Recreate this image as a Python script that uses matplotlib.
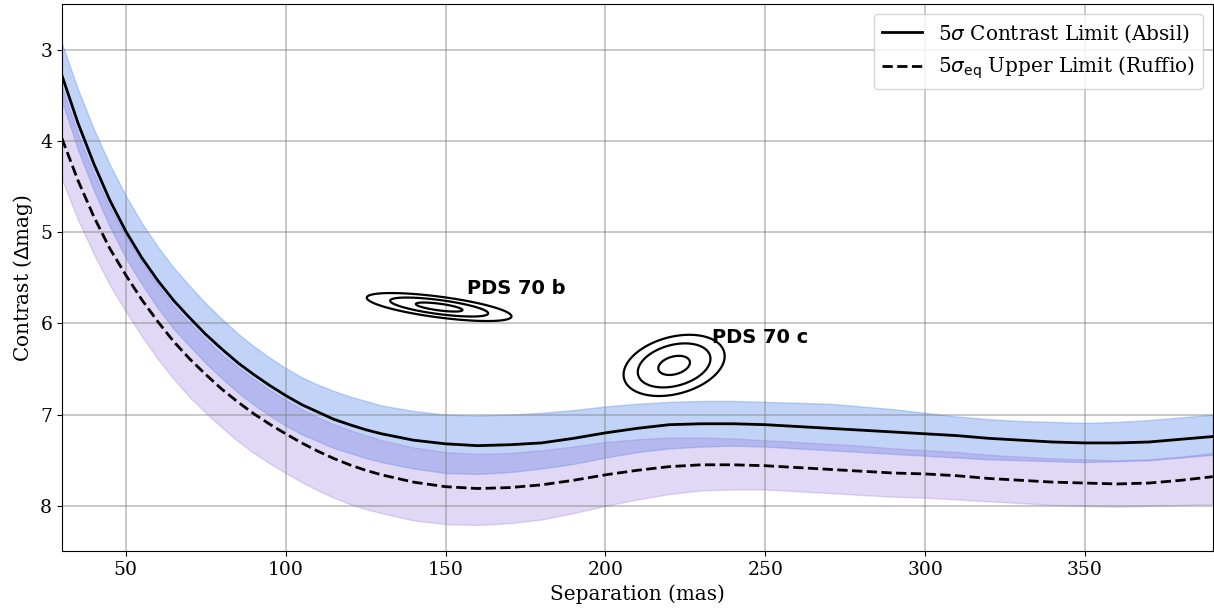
import numpy as np
import matplotlib
matplotlib.use('Agg')
import matplotlib.pyplot as plt

plt.rcParams['font.family'] = 'DejaVu Serif'

# separation grid (mas)
sep = [30, 35, 40, 45, 50, 55, 60, 65, 70, 75, 80, 85, 90, 95, 100, 105, 110, 115, 120,
       125, 130, 140, 150, 160, 170, 180, 190, 200, 210, 220, 230, 240, 250, 260, 270,
       280, 290, 300, 310, 320, 330, 340, 350, 360, 370, 380, 390]

# 5 sigma contrast limit (Absil) and its band
absil = [3.28, 3.80, 4.25, 4.65, 4.99, 5.28, 5.53, 5.75, 5.94, 6.12, 6.28, 6.43, 6.56, 6.68,
         6.79, 6.89, 6.97, 7.05, 7.11, 7.165, 7.21, 7.28, 7.32, 7.34, 7.33, 7.31, 7.26, 7.20,
         7.15, 7.11, 7.10, 7.10, 7.11, 7.13, 7.15, 7.17, 7.19, 7.21, 7.23, 7.26, 7.28, 7.30,
         7.31, 7.31, 7.30, 7.27, 7.24]
absil_lo = [2.93, 3.43, 3.87, 4.26, 4.60, 4.90, 5.16, 5.39, 5.59, 5.78, 5.95, 6.11, 6.25, 6.375,
            6.49, 6.59, 6.67, 6.74, 6.80, 6.85, 6.90, 6.96, 7.00, 7.01, 7.00, 6.98, 6.95, 6.91,
            6.88, 6.86, 6.85, 6.85, 6.86, 6.87, 6.88, 6.91, 6.94, 6.98, 7.02, 7.05, 7.07, 7.08,
            7.09, 7.08, 7.06, 7.03, 7.00]
absil_hi = [3.56, 4.09, 4.54, 4.94, 5.28, 5.57, 5.83, 6.06, 6.25, 6.435, 6.60, 6.755, 6.89, 7.01,
            7.12, 7.215, 7.29, 7.365, 7.42, 7.475, 7.52, 7.59, 7.64, 7.65, 7.63, 7.59, 7.54, 7.47,
            7.41, 7.37, 7.35, 7.34, 7.35, 7.37, 7.39, 7.41, 7.43, 7.45, 7.47, 7.49, 7.50, 7.51,
            7.52, 7.51, 7.50, 7.47, 7.44]

# 5 sigma_eq upper limit (Ruffio) and its band
ruffio = [3.97, 4.43, 4.83, 5.18, 5.47, 5.74, 5.98, 6.20, 6.39, 6.56, 6.72, 6.86, 6.99, 7.105,
          7.21, 7.31, 7.40, 7.48, 7.55, 7.61, 7.66, 7.74, 7.79, 7.81, 7.80, 7.77, 7.72, 7.66,
          7.61, 7.57, 7.55, 7.55, 7.56, 7.58, 7.60, 7.62, 7.64, 7.65, 7.67, 7.70, 7.72, 7.74,
          7.75, 7.76, 7.75, 7.72, 7.68]
ruffio_lo = [3.41, 3.92, 4.36, 4.73, 5.04, 5.33, 5.58, 5.81, 6.00, 6.175, 6.34, 6.48, 6.61, 6.73,
             6.84, 6.94, 7.03, 7.105, 7.17, 7.225, 7.28, 7.36, 7.41, 7.43, 7.42, 7.39, 7.35, 7.30,
             7.27, 7.25, 7.25, 7.26, 7.28, 7.30, 7.32, 7.34, 7.37, 7.39, 7.41, 7.44, 7.46, 7.48,
             7.49, 7.50, 7.49, 7.46, 7.42]
ruffio_hi = [4.42, 4.86, 5.24, 5.58, 5.87, 6.14, 6.39, 6.61, 6.81, 6.98, 7.14, 7.29, 7.42, 7.535,
             7.64, 7.74, 7.83, 7.91, 7.98, 8.035, 8.08, 8.16, 8.20, 8.21, 8.19, 8.15, 8.08, 8.00,
             7.93, 7.87, 7.83, 7.82, 7.82, 7.84, 7.86, 7.88, 7.90, 7.91, 7.93, 7.95, 7.97, 7.99,
             8.00, 8.01, 8.00, 7.99, 7.98]

# planet posteriors: centre (mas, mag), spread, tilt, contour levels
planets = ['PDS 70 b', 'PDS 70 c']
p_center = [(148.0, 5.82), (221.5, 6.46)]
p_spread = [(7.3, 0.037), (4.94, 0.100)]
p_tilt = [0.0045, -0.0064]
p_levels = [[1.0, 2.1, 3.1], [1.0, 2.3, 3.2]]
p_label = [(156.6, 5.62), (233.4, 6.15)]

fig = plt.figure(figsize=(12.14, 6.10), dpi=100)
ax = fig.add_axes([0.051, 0.096, 0.948, 0.897])

ax.fill_between(sep, absil_lo, absil_hi, color='cornflowerblue', alpha=0.4)
ax.fill_between(sep, ruffio_lo, ruffio_hi, color='mediumpurple', alpha=0.27)
ax.plot(sep, absil, color='k', lw=2, label=r'5$\sigma$ Contrast Limit (Absil)')
ax.plot(sep, ruffio, color='k', lw=2, ls='--', label=r'5$\sigma_{\rm eq}$ Upper Limit (Ruffio)')

for i in range(len(planets)):
    x0, y0 = p_center[i]
    sx, sy = p_spread[i]
    gx, gy = np.meshgrid(np.linspace(x0 - 30, x0 + 30, 400), np.linspace(y0 - 0.6, y0 + 0.6, 400))
    u = (gx - x0) / sx
    v = (gy - y0 - p_tilt[i] * (gx - x0)) / sy
    ax.contour(gx, gy, np.sqrt(u**2 + v**2), levels=p_levels[i], colors='k', linewidths=1.6)
    ax.text(p_label[i][0], p_label[i][1], planets[i], family='DejaVu Sans', fontweight='bold',
            fontsize=14, va='center')

ax.set_xlim(30, 390)
ax.set_ylim(8.5, 2.5)
ax.set_xticks([50, 100, 150, 200, 250, 300, 350])
ax.set_yticks([3, 4, 5, 6, 7, 8])
ax.tick_params(labelsize=13.5)
ax.grid(True, color='gray', alpha=0.5, lw=1.2)
ax.set_xlabel('Separation (mas)', fontsize=14.4)
ax.set_ylabel(r'Contrast ($\Delta$mag)', fontsize=14.4)
ax.legend(loc='upper right', fontsize=14.4)

fig.savefig('out.png', dpi=100)
